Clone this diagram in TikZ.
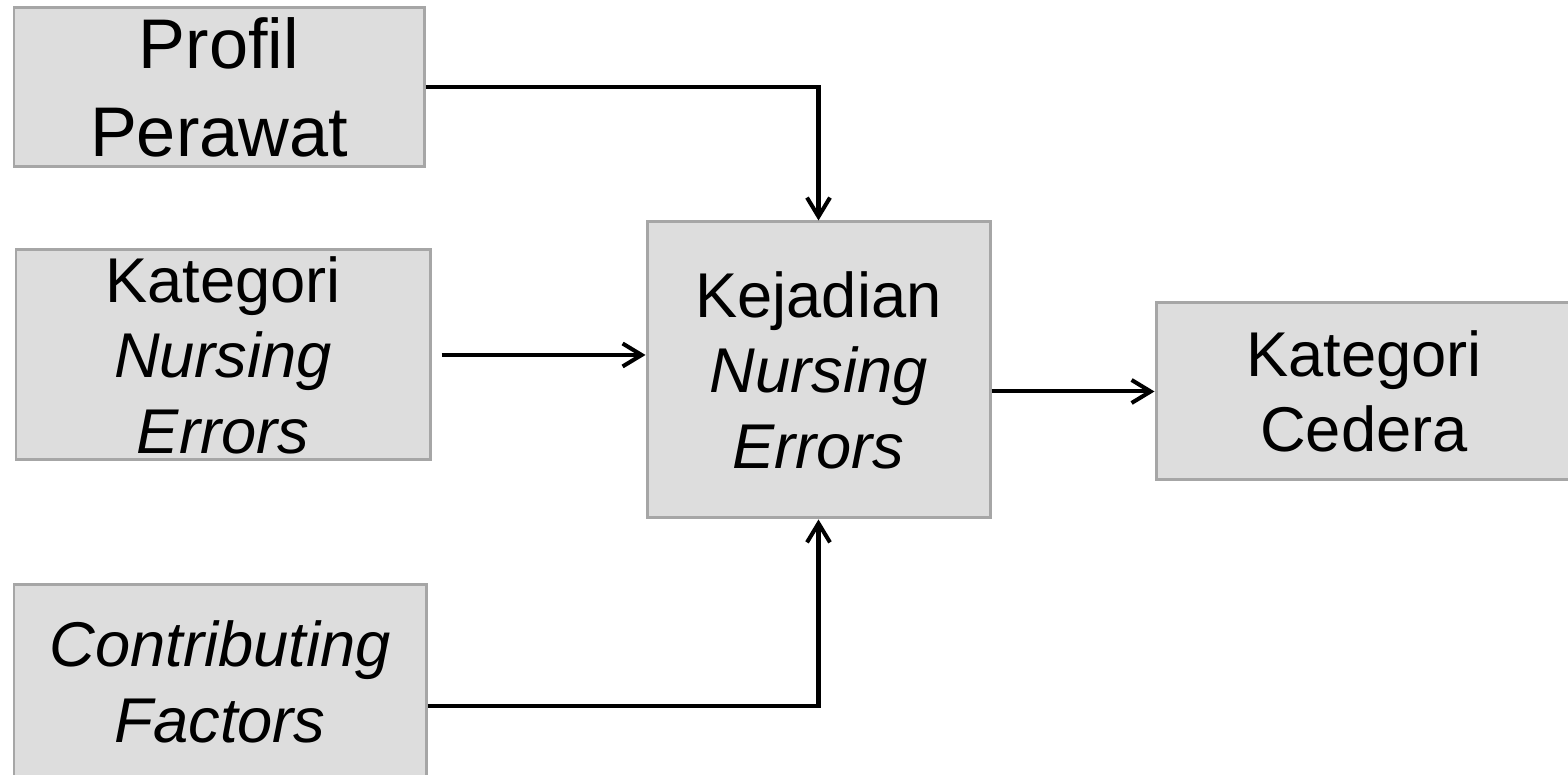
\documentclass[tikz,border=0pt]{standalone}
\usepackage{fontspec}
\setmainfont{Liberation Sans}
\usepackage{xcolor}
\usepackage{tikz}
\usetikzlibrary{arrows.meta,positioning}
\definecolor{boxfill}{RGB}{221, 221, 221}
\definecolor{boxline}{RGB}{166, 166, 166}

\begin{document}
\begin{tikzpicture}[
	box/.style={draw=boxline, fill=boxfill, line width=0.85pt, align=center, inner sep=0pt, font=\fontsize{18}{21.5}\selectfont},
	flow/.style={-{Straight Barb[length=1.9mm, width=2.3mm]}, line width=1.15pt, draw=black}
]
	\useasboundingbox (0,0) rectangle (15.68,7.75);
	\clip (0,0) rectangle (15.68,7.75);

	\node[box, minimum width=3.43cm, minimum height=2.96cm] (kejadian) at (8.185,4.05) {Kejadian\\\textit{Nursing}\\\textit{Errors}};

	\node[box, minimum width=4.10cm, minimum height=1.59cm, font=\fontsize{20}{25}\selectfont] (profil) at (2.19,6.875) {Profil\\Perawat};

	\node[box, minimum width=4.14cm, minimum height=2.10cm] (katne) at (2.23,4.20) {Kategori\\\textit{Nursing}\\\textit{Errors}};

	\node[box, minimum width=4.12cm, minimum height=1.94cm] (contrib) at (2.20,0.93) {\textit{Contributing}\\\textit{Factors}};

	\node[box, right=1.63cm of kejadian, yshift=-0.215cm, minimum width=4.16cm, minimum height=1.77cm] (cedera) {Kategori\\Cedera};

	\draw[flow] (profil.east) -| (kejadian.north);
	\draw[flow] ([xshift=0.1cm]katne.east) -- (kejadian.west |- katne.east);
	\draw[flow] (contrib.east |- 0,0.69) -| (kejadian.south);
	\draw[flow] (kejadian.east |- cedera.west) -- (cedera.west);
\end{tikzpicture}
\end{document}
